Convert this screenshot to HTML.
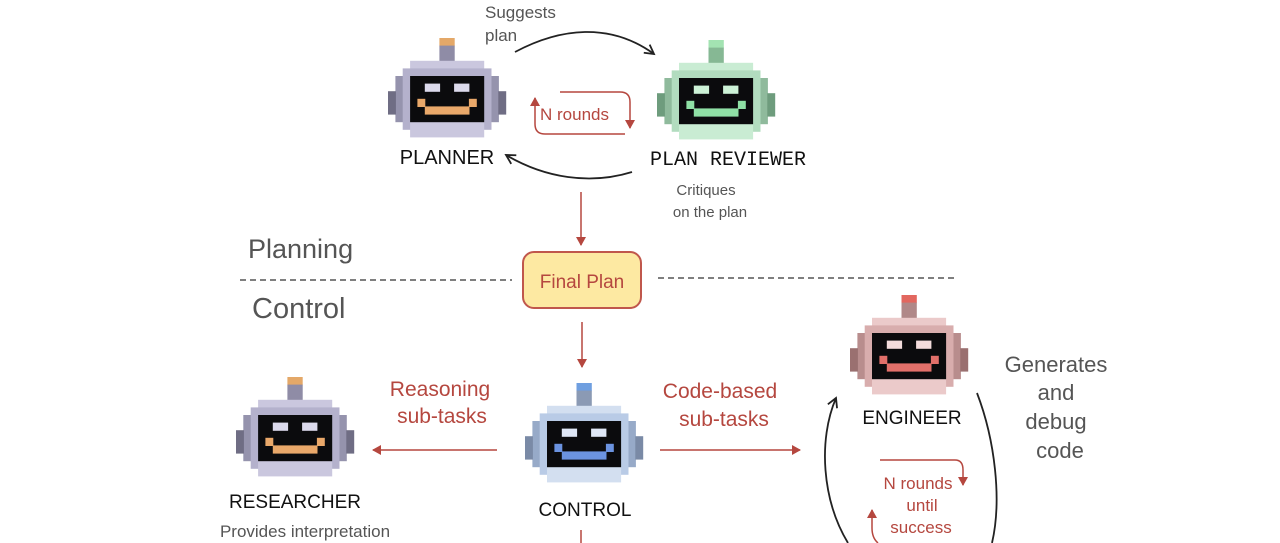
<!DOCTYPE html>
<html><head><meta charset="utf-8"><style>
html,body{margin:0;padding:0;background:#fff;}
body{width:1280px;height:543px;overflow:hidden;position:relative;font-family:"Liberation Sans","DejaVu Sans",sans-serif;}
svg{position:absolute;left:0;top:0;}
</style></head><body>
<svg id="s" width="1280" height="543" viewBox="0 0 1280 543" xmlns="http://www.w3.org/2000/svg">
<defs>
<marker id="ab" markerWidth="12" markerHeight="12" refX="10" refY="6" orient="auto" markerUnits="userSpaceOnUse"><path d="M1,1 L10,6 L1,11" fill="none" stroke="#222" stroke-width="1.8"/></marker>
<marker id="ar" markerWidth="10" markerHeight="10" refX="8" refY="5" orient="auto" markerUnits="userSpaceOnUse"><path d="M0,0 L9,5 L0,10 Z" fill="#b5473f"/></marker>
</defs>
<g id="robots"></g>
<g font-family="'Liberation Sans','DejaVu Sans',sans-serif">
<text x="485" y="18" font-size="17" fill="#555">Suggests</text>
<text x="485" y="41" font-size="17" fill="#555">plan</text>
<path d="M515,52 C560,28 610,22 654,54" fill="none" stroke="#222" stroke-width="1.8" marker-end="url(#ab)"/>
<path d="M632,172 C590,185 545,178 506,155" fill="none" stroke="#222" stroke-width="1.8" marker-end="url(#ab)"/>
<path d="M560,92 L620,92 Q630,92 630,102 L630,128" fill="none" stroke="#b5473f" stroke-width="1.5" marker-end="url(#ar)"/>
<path d="M625,134 L545,134 Q535,134 535,124 L535,98" fill="none" stroke="#b5473f" stroke-width="1.5" marker-end="url(#ar)"/>
<text x="540" y="120" font-size="17" fill="#b5473f">N rounds</text>
<text x="447" y="164" font-size="20" fill="#111" text-anchor="middle">PLANNER</text>
<text x="728" y="165" font-size="20" fill="#111" text-anchor="middle" font-family="'Liberation Mono',monospace">PLAN REVIEWER</text>
<text x="706" y="195" font-size="15" fill="#555" text-anchor="middle">Critiques</text>
<text x="710" y="217" font-size="15" fill="#555" text-anchor="middle">on the plan</text>
<line x1="581" y1="192" x2="581" y2="245" stroke="#b5473f" stroke-width="1.5" marker-end="url(#ar)"/>
<text x="248" y="258" font-size="27" fill="#555">Planning</text>
<line x1="240" y1="280" x2="512" y2="280" stroke="#555" stroke-width="1.5" stroke-dasharray="6,4"/>
<line x1="658" y1="278" x2="958" y2="278" stroke="#555" stroke-width="1.5" stroke-dasharray="6,4"/>
<rect x="523" y="252" width="118" height="56" rx="11" fill="#fde9a2" stroke="#c0574c" stroke-width="2"/>
<text x="582" y="288" font-size="19" fill="#b5473f" text-anchor="middle">Final Plan</text>
<text x="252" y="318" font-size="29" fill="#555">Control</text>
<line x1="582" y1="322" x2="582" y2="367" stroke="#b5473f" stroke-width="1.5" marker-end="url(#ar)"/>
<text x="440" y="396" font-size="21" fill="#b5473f" text-anchor="middle">Reasoning</text>
<text x="442" y="423" font-size="21" fill="#b5473f" text-anchor="middle">sub-tasks</text>
<line x1="497" y1="450" x2="373" y2="450" stroke="#b5473f" stroke-width="1.5" marker-end="url(#ar)"/>
<text x="720" y="398" font-size="21" fill="#b5473f" text-anchor="middle">Code-based</text>
<text x="724" y="426" font-size="21" fill="#b5473f" text-anchor="middle">sub-tasks</text>
<line x1="660" y1="450" x2="800" y2="450" stroke="#b5473f" stroke-width="1.5" marker-end="url(#ar)"/>
<text x="295" y="508" font-size="19" fill="#111" text-anchor="middle">RESEARCHER</text>
<text x="305" y="537" font-size="17" fill="#555" text-anchor="middle">Provides interpretation</text>
<text x="585" y="516" font-size="19" fill="#111" text-anchor="middle">CONTROL</text>
<line x1="581" y1="530" x2="581" y2="543" stroke="#b5473f" stroke-width="1.5"/>
<text x="912" y="424" font-size="19" fill="#111" text-anchor="middle">ENGINEER</text>
<text x="1056" y="372" font-size="22" fill="#555" text-anchor="middle">Generates</text>
<text x="1056" y="400" font-size="22" fill="#555" text-anchor="middle">and</text>
<text x="1056" y="429" font-size="22" fill="#555" text-anchor="middle">debug</text>
<text x="1060" y="458" font-size="22" fill="#555" text-anchor="middle">code</text>
<path d="M848,543 C822,500 818,440 836,398" fill="none" stroke="#222" stroke-width="1.8" marker-end="url(#ab)"/>
<path d="M977,393 C995,440 1002,500 992,543" fill="none" stroke="#222" stroke-width="1.8"/>
<path d="M880,460 L955,460 Q963,460 963,470 L963,485" fill="none" stroke="#b5473f" stroke-width="1.5" marker-end="url(#ar)"/>
<path d="M878,543 Q872,538 872,528 L872,510" fill="none" stroke="#b5473f" stroke-width="1.5" marker-end="url(#ar)"/>
<text x="918" y="489" font-size="17" fill="#b5473f" text-anchor="middle">N rounds</text>
<text x="922" y="511" font-size="17" fill="#b5473f" text-anchor="middle">until</text>
<text x="921" y="533" font-size="17" fill="#b5473f" text-anchor="middle">success</text>
</g>
</svg>
<script>
(function(){
var g=document.getElementById('robots');
function robot(x0,y0,c){
  var u=7.35,v=7.6,out='';
  function r(c1,r1,w,h,col){out+='<rect x="'+(x0+c1*u).toFixed(1)+'" y="'+(y0+r1*v).toFixed(1)+'" width="'+(w*u+0.6).toFixed(1)+'" height="'+(h*v+0.6).toFixed(1)+'" fill="'+col+'"/>';}
  r(7,0,2,1,c.ant); r(7,1,2,2,c.stem);
  r(3,3,10,1,c.light);
  r(2,4,12,1,c.body);
  r(1,5,14,6,c.side);
  r(2,5,12,7,c.body);
  r(0,7,1,3,c.ear); r(15,7,1,3,c.ear);
  r(3,11,10,2,c.light);
  r(3,5,10,6,'#0b0b0d');
  r(5,6,2,1,c.eye); r(9,6,2,1,c.eye);
  r(4,8,1,1,c.mouth); r(11,8,1,1,c.mouth); r(5,9,6,1,c.mouth);
  return out;
}
var P={ant:'#e4a868',stem:'#8f8ca6',light:'#cac7de',body:'#b4b1cc',side:'#9593ad',ear:'#6f6d84',eye:'#dcdaec',mouth:'#e9a86a'};
var G={ant:'#a3e3b2',stem:'#86b894',light:'#c9ecd3',body:'#b2dcbf',side:'#8fba9c',ear:'#6e9c7d',eye:'#cdf2d7',mouth:'#8fe0a5'};
var E={ant:'#e2675f',stem:'#b08888',light:'#ebcaca',body:'#d8adad',side:'#b88d8d',ear:'#9a7070',eye:'#f3dcdc',mouth:'#e2706a'};
var C={ant:'#6f9fe0',stem:'#8b9ab4',light:'#d3dff0',body:'#b9cbe6',side:'#97aac8',ear:'#7a8aa6',eye:'#dfe7f6',mouth:'#6b93e0'};
var h='';
h+=robot(388,38,P);
h+=robot(657,40,G);
h+=robot(850,295,E);
h+=robot(236,377,P);
h+=robot(525,383,C);
g.innerHTML=h;
})();
</script>
</body></html>
